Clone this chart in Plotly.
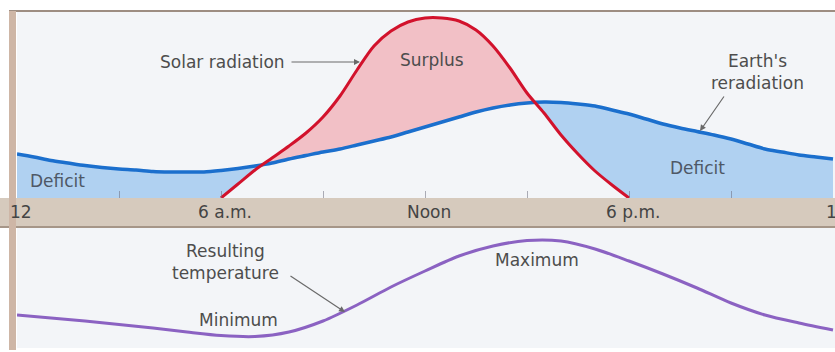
import numpy as np
import plotly.graph_objects as go

# ---------------- data ----------------
# hours after midnight
blue_hours = [0, 0.5, 1, 1.5, 2, 2.5, 3, 3.5, 4, 4.5, 5, 5.5, 6, 6.5, 7, 7.5, 8, 8.5,
              9, 9.5, 10, 10.5, 11, 11.5, 12, 12.5, 13, 13.5, 14, 14.5, 15, 15.5,
              16, 16.5, 17, 17.5, 18, 18.5, 19, 19.5, 20, 20.5, 21, 21.5, 22, 22.5,
              23, 23.5, 24]
# Earth's reradiation (relative units)
earth_rerad = [44, 41, 37.5, 35, 32.5, 30.5, 29, 28, 26.5, 26, 26, 26, 27.5, 29.5, 32,
               35, 39, 42.5, 46, 49, 53, 57, 61, 66, 71, 76, 81, 86, 90, 93, 95, 96,
               95.5, 94, 92, 88, 84, 79, 74, 70, 66.5, 63, 59, 54, 49, 46, 43, 41, 39]

solar_hours = [6, 6.5, 7, 7.5, 8, 8.5, 9, 9.5, 10, 10.5, 11, 11.5, 12, 12.5, 13, 13.5,
               14, 14.5, 15, 15.5, 16, 16.5, 17, 17.5, 18]
# Solar radiation (relative units)
solar_rad = [0, 14, 28, 40, 52, 65, 81, 102, 128, 152, 167, 176, 180, 180, 177, 168,
             152, 130, 105, 85, 63, 44, 27, 13, 0]

temp_hours = list(range(0, 25))
# Resulting temperature (relative units)
temperature = [33, 30, 27, 23.5, 20, 16, 12.5, 11.5, 16, 27, 43, 61, 77, 92, 102,
               107.5, 107, 99, 87, 74, 60, 45, 33, 25, 18]

band_hours = [0, 6, 12, 18, 24]
band_labels = ["12", "6 a.m.", "Noon", "6 p.m.", "12"]
minor_tick_hours = [3, 6, 9, 12, 15, 18, 21]

# ---------------- derived fill boundaries ----------------
h = np.array(blue_hours, dtype=float)
b = np.array(earth_rerad, dtype=float)
r = np.interp(h, solar_hours, solar_rad, left=0, right=0)

hx, bx, rx = [h[0]], [b[0]], [r[0]]
for i in range(len(h) - 1):
    d0, d1 = r[i] - b[i], r[i + 1] - b[i + 1]
    if d0 * d1 < 0:
        t = d0 / (d0 - d1)
        xc = h[i] + t * (h[i + 1] - h[i])
        yc = b[i] + t * (b[i + 1] - b[i])
        hx.append(xc); bx.append(yc); rx.append(yc)
    hx.append(h[i + 1]); bx.append(b[i + 1]); rx.append(r[i + 1])
hx, bx, rx = np.array(hx), np.array(bx), np.array(rx)
lo = np.minimum(bx, rx)

# ---------------- figure ----------------
W, H = 835, 352
PX_PER_HOUR = 34.0
LEFT = 17
FONT = "DejaVu Sans"
TXT = "#4d4d4d"

def py(y):
    return (H - y) / H

fig = go.Figure()

inv = dict(width=0)
fig.add_trace(go.Scatter(x=hx, y=lo, mode="lines", line=inv, hoverinfo="skip"))
fig.add_trace(go.Scatter(x=hx, y=bx, mode="lines", line=inv, fill="tonexty",
                         fillcolor="#b0d1f1", hoverinfo="skip"))
fig.add_trace(go.Scatter(x=hx, y=lo, mode="lines", line=inv, hoverinfo="skip"))
fig.add_trace(go.Scatter(x=hx, y=rx, mode="lines", line=inv, fill="tonexty",
                         fillcolor="#f2c0c6", hoverinfo="skip"))

fig.add_trace(go.Scatter(x=blue_hours, y=earth_rerad, mode="lines",
                         line=dict(color="#1b6fcd", width=3.5, shape="spline", smoothing=0.8)))
fig.add_trace(go.Scatter(x=solar_hours, y=solar_rad, mode="lines",
                         line=dict(color="#d2122c", width=3, shape="spline", smoothing=0.8)))
fig.add_trace(go.Scatter(x=temp_hours, y=temperature, mode="lines", xaxis="x2", yaxis="y2",
                         line=dict(color="#8b62c2", width=3, shape="spline", smoothing=0.8)))

xr = [0, (W - LEFT) / PX_PER_HOUR]
fig.update_layout(
    width=W, height=H, margin=dict(l=0, r=0, t=0, b=0),
    paper_bgcolor="white", plot_bgcolor="#f3f5f8", showlegend=False,
    xaxis=dict(domain=[LEFT / W, 1], range=xr, anchor="y", showgrid=False, zeroline=False,
               showline=False, ticks="inside", ticklen=7, tickwidth=1,
               tickcolor="rgba(110,110,125,0.55)", tickvals=minor_tick_hours,
               showticklabels=False, fixedrange=True),
    yaxis=dict(domain=[py(198), py(11)], range=[0, 187], visible=False, fixedrange=True),
    xaxis2=dict(domain=[LEFT / W, 1], range=xr, anchor="y2", visible=False, fixedrange=True),
    yaxis2=dict(domain=[py(348), py(228)], range=[0, 120], visible=False, fixedrange=True),
)

shapes = [
    dict(type="rect", xref="paper", yref="paper", x0=0, x1=1, y0=py(228), y1=py(198),
         fillcolor="#d6cabd", line=dict(width=0)),
    dict(type="line", xref="paper", yref="paper", x0=0, x1=1, y0=py(227), y1=py(227),
         line=dict(color="#a69688", width=2)),
    dict(type="line", xref="paper", yref="paper", x0=9 / W, x1=1, y0=py(11), y1=py(11),
         line=dict(color="#9d8d82", width=2)),
    dict(type="rect", xref="paper", yref="paper", x0=9 / W, x1=16 / W, y0=py(350), y1=py(11),
         fillcolor="#ceb6a6", line=dict(width=0)),
]
fig.update_layout(shapes=shapes)

def hr(px):
    return (px - LEFT) / PX_PER_HOUR

ann = []
def text(x, y, s, xref="x", yref="y", **kw):
    ann.append(dict(x=x, y=y, xref=xref, yref=yref, text=s, showarrow=False,
                    font=dict(family=FONT, size=17, color=kw.pop("color", TXT)), **kw))

def arrow(x, y, ax, ay, xref="x", yref="y"):
    ann.append(dict(x=x, y=y, xref=xref, yref=yref, text="", showarrow=True, ax=ax, ay=ay,
                    arrowhead=2, arrowsize=1, arrowwidth=1.2, arrowcolor="#6a6a6a"))

# top panel labels
text(hr(222), 198 - 62, "Solar radiation")
arrow(hr(360), 198 - 62, -70, 0)
text(hr(432), 198 - 60, "Surplus")
text(hr(757), 198 - 72, "Earth's<br>reradiation")
arrow(hr(700), 198 - 131, 25, -36)
text(hr(57), 198 - 181, "Deficit", color="#4e5866")
text(hr(697), 198 - 168, "Deficit", color="#4e5866")

# band labels
for hh, lab in zip(band_hours, band_labels):
    ann.append(dict(x=hh, y=py(212), xref="x", yref="paper", text=lab, showarrow=False,
                    xshift=4, font=dict(family=FONT, size=17, color="#444444")))

# bottom panel labels
text(hr(225), 348 - 262, "Resulting<br>temperature", xref="x2", yref="y2")
arrow(hr(345), 348 - 312, -56, -37, xref="x2", yref="y2")
text(hr(238), 348 - 320, "Minimum", xref="x2", yref="y2")
text(hr(537), 348 - 260, "Maximum", xref="x2", yref="y2")

fig.update_layout(annotations=ann)
fig.write_html("out.html", config={"displayModeBar": False},
               post_script="document.body.style.margin='0px';document.body.style.padding='0px';")
